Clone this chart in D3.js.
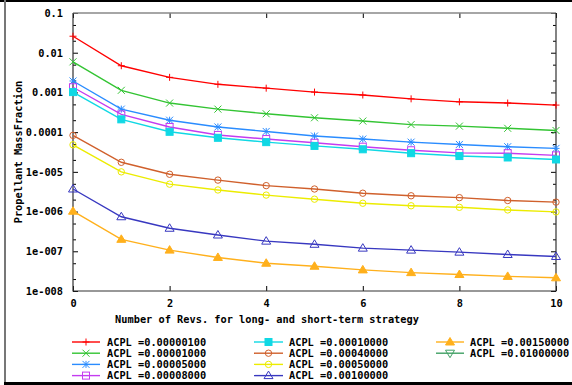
<!DOCTYPE html>
<html>
<head>
<meta charset="utf-8">
<script src="https://cdn.jsdelivr.net/npm/d3@7"></script>
<style>
  body { margin: 0; background: #fff; }
  svg text { font-family: "DejaVu Sans Mono", monospace; font-weight: bold; font-size: 10.3px; fill: #000; }
</style>
</head>
<body>
<div id="chart"></div>
<script>
const revs = [0, 1, 2, 3, 4, 5, 6, 7, 8, 9, 10];

const acpl = ["0.00000100", "0.00001000", "0.00005000", "0.00008000", "0.00010000",
  "0.00040000", "0.00050000", "0.00100000", "0.00150000", "0.01000000"];

const mf00000100 = [0.026, 0.0047, 0.0024, 0.0016, 0.00128, 0.00102, 0.00086, 0.00069, 0.00058, 0.00054, 0.00048];
const mf00001000 = [0.0059, 0.00113, 0.00054, 0.00038, 0.00029, 0.00023, 0.00019, 0.000155, 0.000142, 0.000125, 0.00011];
const mf00005000 = [0.00194, 0.00038, 0.0002, 0.000135, 0.000104, 8e-5, 6.7e-5, 5.6e-5, 4.9e-5, 4.3e-5, 3.9e-5];
const mf00008000 = [0.00135, 0.00028, 0.000135, 8.5e-5, 6.7e-5, 5.4e-5, 4.3e-5, 3.5e-5, 3.0e-5, 2.95e-5, 2.6e-5];
const mf00010000 = [0.00102, 0.00021, 0.000102, 7.2e-5, 5.6e-5, 4.5e-5, 3.7e-5, 2.95e-5, 2.5e-5, 2.3e-5, 2.05e-5];
const mf00040000 = [8.3e-5, 1.74e-5, 8.7e-6, 6.2e-6, 4.5e-6, 3.7e-6, 2.9e-6, 2.5e-6, 2.24e-6, 1.9e-6, 1.73e-6];
const mf00050000 = [4.8e-5, 1.0e-5, 4.9e-6, 3.5e-6, 2.6e-6, 2.05e-6, 1.62e-6, 1.4e-6, 1.28e-6, 1.1e-6, 9.8e-7];
const mf00100000 = [3.7e-6, 7.4e-7, 3.8e-7, 2.57e-7, 1.8e-7, 1.5e-7, 1.2e-7, 1.07e-7, 9.5e-8, 8.3e-8, 7.4e-8];
const mf00150000 = [1.02e-6, 2.0e-7, 1.07e-7, 7e-8, 5e-8, 4.2e-8, 3.4e-8, 2.9e-8, 2.6e-8, 2.33e-8, 2.15e-8];
const mf01000000 = []; // below the plotted range

const yTicks = [0.1, 0.01, 0.001, 0.0001, 1e-5, 1e-6, 1e-7, 1e-8];
const yTickLabels = ["0.1", "0.01", "0.001", "0.0001", "1e-005", "1e-006", "1e-007", "1e-008"];
const xTicks = [0, 2, 4, 6, 8, 10];

const seriesValues = [mf00000100, mf00001000, mf00005000, mf00008000, mf00010000,
  mf00040000, mf00050000, mf00100000, mf00150000, mf01000000];
const colors = ["#ff0000", "#33c433", "#2a8cff", "#c43cf0", "#10d8e4",
  "#d0602c", "#ecec00", "#3838c0", "#ffb01c", "#40a064"];
const markers = ["plus", "cross", "star", "square", "fsquare", "circle", "circle", "triangle", "ftriangle", "dtriangle"];

const width = 572, height = 385;
const mLeft = 73, mRight = 556, mTop = 13, mBottom = 291;

const svg = d3.select("#chart").append("svg")
  .attr("width", width).attr("height", height);

svg.append("rect").attr("width", width).attr("height", height).attr("fill", "#fff");
// window frame
svg.append("rect").attr("x", 0).attr("y", 0).attr("width", width).attr("height", 2).attr("fill", "#000");
svg.append("rect").attr("x", 4).attr("y", 0).attr("width", 2).attr("height", height).attr("fill", "#777");
svg.append("rect").attr("x", 4).attr("y", 382).attr("width", width).attr("height", 3).attr("fill", "#000");

const x = d3.scaleLinear().domain([0, 10]).range([mLeft, mRight]);
const y = d3.scaleLog().domain([1e-8, 0.1]).range([mBottom, mTop]);

const minor = [];
for (let e = -8; e < -1; e++) {
  minor.push(2 * Math.pow(10, e), 5 * Math.pow(10, e));
}

function styleAxis(g) {
  g.select(".domain").remove();
  g.selectAll(".tick line").attr("stroke", "#000");
}

svg.append("g").attr("transform", `translate(${mLeft},0)`)
  .call(d3.axisLeft(y).tickValues(yTicks).tickFormat((d, i) => yTickLabels[i]).tickSize(-5).tickSizeOuter(0).tickPadding(10))
  .call(styleAxis);
svg.append("g").attr("transform", `translate(${mLeft},0)`)
  .call(d3.axisLeft(y).tickValues(minor).tickFormat("").tickSize(-3).tickSizeOuter(0))
  .call(styleAxis);
svg.append("g").attr("transform", `translate(${mRight},0)`)
  .call(d3.axisRight(y).tickValues(yTicks).tickFormat("").tickSize(-5).tickSizeOuter(0))
  .call(styleAxis);
svg.append("g").attr("transform", `translate(${mRight},0)`)
  .call(d3.axisRight(y).tickValues(minor).tickFormat("").tickSize(-3).tickSizeOuter(0))
  .call(styleAxis);
svg.append("g").attr("transform", `translate(0,${mBottom})`)
  .call(d3.axisBottom(x).tickValues(xTicks).tickFormat(d3.format("d")).tickSize(-5).tickSizeOuter(0).tickPadding(9))
  .call(styleAxis);
svg.append("g").attr("transform", `translate(0,${mTop})`)
  .call(d3.axisTop(x).tickValues(xTicks).tickFormat("").tickSize(-5).tickSizeOuter(0))
  .call(styleAxis);
svg.selectAll("g").attr("font-family", null).attr("font-size", null);

// plot frame
svg.append("path")
  .attr("d", `M${mLeft},${mTop}H${mRight}`).attr("stroke", "#888").attr("stroke-width", 1.5).attr("fill", "none");
svg.append("path")
  .attr("d", `M${mLeft},${mTop}V${mBottom}H${mRight}V${mTop}`).attr("stroke", "#333").attr("stroke-width", 1.2).attr("fill", "none");

// titles
svg.append("text").attr("x", 267).attr("y", 323).attr("text-anchor", "middle")
  .text("Number of Revs. for long- and short-term strategy");
svg.append("text").attr("transform", `translate(22,${(mTop + mBottom) / 2}) rotate(-90)`)
  .attr("text-anchor", "middle").text("Propellant MassFraction");

function drawMarker(g, type, color, cx, cy) {
  const s = 3.5;
  let el;
  switch (type) {
    case "plus":
      el = g.append("path").attr("d", `M${cx - s},${cy}H${cx + s}M${cx},${cy - s}V${cy + s}`); break;
    case "cross":
      el = g.append("path").attr("d", `M${cx - s},${cy - s}L${cx + s},${cy + s}M${cx - s},${cy + s}L${cx + s},${cy - s}`); break;
    case "star":
      el = g.append("path").attr("d", `M${cx - s},${cy}H${cx + s}M${cx},${cy - s}V${cy + s}M${cx - s},${cy - s}L${cx + s},${cy + s}M${cx - s},${cy + s}L${cx + s},${cy - s}`); break;
    case "square":
    case "fsquare":
      el = g.append("rect").attr("x", cx - 3.5).attr("y", cy - 3.5).attr("width", 7).attr("height", 7); break;
    case "circle":
      el = g.append("circle").attr("cx", cx).attr("cy", cy).attr("r", 3.2); break;
    case "triangle":
    case "ftriangle":
      el = g.append("path").attr("d", `M${cx},${cy - 4.5}L${cx + 4.5},${cy + 3}L${cx - 4.5},${cy + 3}Z`); break;
    case "dtriangle":
      el = g.append("path").attr("d", `M${cx},${cy + 4.5}L${cx + 4.5},${cy - 3}L${cx - 4.5},${cy - 3}Z`); break;
  }
  el.attr("stroke", color).attr("stroke-width", 1).attr("fill", "none");
  if (type === "fsquare" || type === "ftriangle") el.attr("fill", color);
}

const line = d3.line().x((d, i) => x(revs[i])).y(d => y(d));
const plot = svg.append("g");

seriesValues.forEach((vals, si) => {
  if (!vals.length) return;
  plot.append("path").datum(vals)
    .attr("d", line).attr("fill", "none")
    .attr("stroke", colors[si]).attr("stroke-width", 1.4);
  vals.forEach((v, i) => drawMarker(plot, markers[si], colors[si], x(revs[i]), y(v)));
});

// legend
const legCols = [{ x0: 72, x1: 100, tx: 107 }, { x0: 254, x1: 283, tx: 289 }, { x0: 436, x1: 464, tx: 470 }];
const legend = svg.append("g");
acpl.forEach((a, i) => {
  const col = i < 4 ? 0 : i < 8 ? 1 : 2;
  const row = i < 4 ? i : i < 8 ? i - 4 : i - 8;
  const c = legCols[col];
  const ly = 342 + row * 11.2;
  legend.append("line").attr("x1", c.x0).attr("x2", c.x1).attr("y1", ly).attr("y2", ly)
    .attr("stroke", colors[i]).attr("stroke-width", 1.4);
  drawMarker(legend, markers[i], colors[i], (c.x0 + c.x1) / 2, ly);
  legend.append("text").attr("x", c.tx).attr("y", ly + 3.7).text("ACPL =" + a);
});
</script>
</body>
</html>
